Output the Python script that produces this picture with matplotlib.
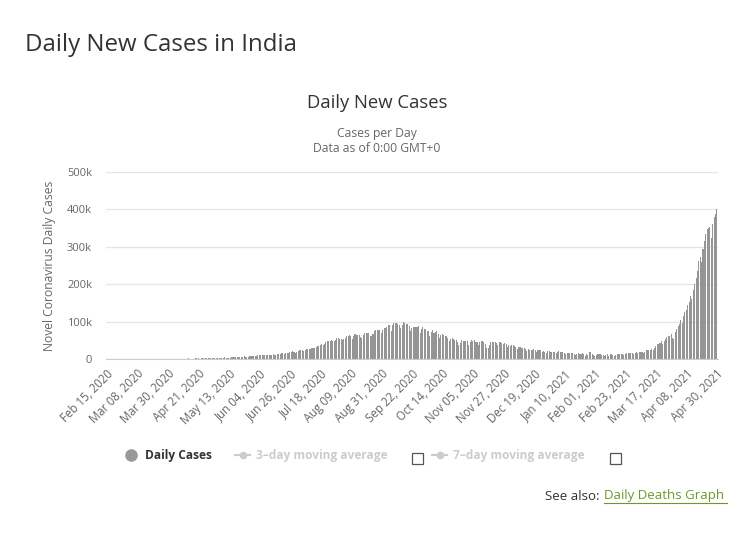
import matplotlib
matplotlib.use("Agg")
import matplotlib.pyplot as plt
from matplotlib.lines import Line2D
from matplotlib.patches import Rectangle
import pandas as pd

plt.rcParams['font.family'] = ['Open Sans', 'DejaVu Sans']

# daily new cases, India, Feb 15 2020 .. Apr 30 2021
feb_2020 = [0] * 15
mar_2020 = [2, 0, 1, 23, 1, 1, 3, 4, 6, 13, 12, 9, 8, 11, 19, 14, 25, 23, 48, 63,
            79, 85, 90, 69, 87, 74, 137, 133, 94, 219, 252]
apr_2020 = [299, 479, 424, 498, 565, 688, 555, 540, 591, 896, 768, 918, 796, 1336, 893,
            1061, 1016, 991, 1334, 1357, 1563, 1264, 1535, 1745, 1749, 1941, 1485, 1576, 1890, 1797]
may_2020 = [2375, 2542, 2669, 3900, 3050, 3554, 3340, 3441, 3104, 4353, 3591, 3647, 3610, 3900,
            4092, 4878, 5049, 5053, 4970, 5690, 5642, 6089, 6606, 6977, 6575, 6348, 6615, 7437,
            7468, 8380, 8137]
jun_2020 = [8392, 8171, 9601, 9633, 9851, 9887, 10436, 9971, 9987, 11089, 11314, 11587, 11929,
            12041, 11499, 10667, 14353, 12821, 13750, 14716, 15414, 13558, 15968, 16301, 16660,
            18313, 19410, 20144, 18653, 16791]
jul_2020 = [19450, 20903, 22718, 24850, 24251, 22252, 23135, 25561, 26506, 26372, 27755, 28701,
            28179, 29842, 32676, 34884, 35252, 37411, 40425, 37148, 39195, 45720, 48916, 49039,
            48661, 49931, 47703, 48512, 52123, 55079, 57118]
aug_2020 = [54735, 52972, 52050, 52509, 56282, 62538, 62170, 64399, 62064, 53601, 60963, 66999,
            64553, 65002, 63490, 57981, 55079, 64531, 69672, 68900, 69878, 70488, 61749, 61408,
            67151, 75760, 77266, 76472, 78761, 78512, 69921]
sep_2020 = [78357, 83883, 83341, 86432, 90633, 90802, 75809, 89706, 95735, 96551, 97570, 94372,
            92071, 81911, 90123, 97894, 96424, 93337, 92605, 86961, 75083, 83347, 86508, 85362,
            86052, 85362, 88600, 70589, 80472, 86821]
oct_2020 = [81484, 79476, 75829, 74442, 61267, 72049, 78524, 70496, 73272, 74383, 66732, 55342,
            63509, 67708, 63371, 62212, 61871, 55722, 46790, 54044, 55839, 53370, 50129, 50356,
            45148, 36469, 43893, 49881, 48648, 46963, 48268]
nov_2020 = [46964, 38310, 46253, 50210, 47638, 50357, 45674, 45903, 38074, 44281, 47905, 48648,
            44879, 41100, 30548, 29164, 38617, 45576, 45882, 45209, 46232, 44059, 37975, 44376,
            44489, 43082, 41322, 41810, 38772, 31118]
dec_2020 = [36604, 35551, 36595, 36652, 36011, 32981, 26567, 32080, 31521, 29398, 30006, 30254,
            27071, 22065, 26382, 24010, 22889, 22890, 26624, 24337, 19556, 23950, 24712, 23067,
            18732, 22273, 20021, 16432, 20549, 21822, 20036]
jan_2021 = [19078, 18177, 18732, 16504, 18088, 20346, 18139, 18222, 18645, 16311, 12584, 15968,
            16946, 15590, 15158, 15144, 13788, 10064, 13823, 15223, 14545, 14256, 14849, 13203,
            9102, 12689, 11666, 18855, 18855, 13083, 11427]
feb_2021 = [8635, 11039, 12899, 12408, 12059, 11713, 11831, 9110, 11067, 12923, 9309, 12143,
            12194, 11649, 9121, 11610, 12881, 13193, 13993, 13993, 14199, 10584, 13742, 16738,
            16577, 16488, 16752, 15510]
mar_2021 = [12286, 14989, 17407, 16838, 18327, 18711, 18599, 15388, 17921, 22854, 23285, 24882,
            25320, 26291, 24492, 28903, 35871, 39726, 40953, 43846, 46951, 40715, 47262, 53476,
            59118, 62258, 62714, 68020, 56211, 53480, 72330]
apr_2021 = [81466, 89129, 93249, 103558, 96982, 115736, 126789, 131968, 145384, 152879, 168912,
            161736, 184372, 200739, 217353, 234692, 261500, 273810, 259167, 295041, 314644,
            332921, 346786, 349313, 352991, 323023, 360927, 379459, 386829, 401993]

cases = (feb_2020 + mar_2020 + apr_2020 + may_2020 + jun_2020 + jul_2020 + aug_2020 + sep_2020
         + oct_2020 + nov_2020 + dec_2020 + jan_2021 + feb_2021 + mar_2021 + apr_2021)
dates = pd.date_range('2020-02-15', periods=len(cases), freq='D')

y_ticks = [0, 100000, 200000, 300000, 400000, 500000]
y_labels = ['0', '100k', '200k', '300k', '400k', '500k']

fig = plt.figure(figsize=(7.37, 5.48), dpi=100)
ax = fig.add_axes([0.1438, 0.3449, 0.830, 0.3412])

ax.bar(dates, cases, width=0.75, color='#959595', linewidth=0)

ax.set_ylim(0, 500000)
ax.set_xlim(dates[0] - pd.Timedelta(days=0.6), dates[-1] + pd.Timedelta(days=0.6))
ax.set_yticks(y_ticks)
ax.set_yticklabels(y_labels)
ax.yaxis.grid(True, color='#e6e6e6', linewidth=1)
ax.set_axisbelow(True)
for s in ['top', 'right', 'left']:
    ax.spines[s].set_visible(False)
ax.spines['bottom'].set_color('#cccccc')
ax.tick_params(axis='y', length=0, labelsize=8, labelcolor='#666666', pad=10)

xt = dates[::22]
ax.set_xticks(xt)
ax.set_xticklabels([d.strftime('%b %d, %Y') for d in xt], rotation=45, ha='right',
                   rotation_mode='anchor')
ax.tick_params(axis='x', length=0, labelsize=8.3, labelcolor='#666666', pad=6)
ax.set_ylabel('Novel Coronavirus Daily Cases', fontsize=8.7, color='#666666', labelpad=8)

# titles
fig.text(25 / 737, 1 - 45 / 548, 'Daily New Cases in India', fontsize=17.3, color='#333333',
         va='center', ha='left')
fig.text(377 / 737, 1 - 103 / 548, 'Daily New Cases', fontsize=13.3, color='#333333',
         va='center', ha='center')
fig.text(377 / 737, 1 - 133 / 548, 'Cases per Day', fontsize=8.7, color='#666666',
         va='center', ha='center')
fig.text(377 / 737, 1 - 148 / 548, 'Data as of 0:00 GMT+0', fontsize=8.7, color='#666666',
         va='center', ha='center')

# legend row
ly = 1 - 455 / 548
fig.add_artist(Line2D([131 / 737], [ly], marker='o', markersize=8, color='#999999',
                      transform=fig.transFigure))
fig.text(145 / 737, ly, 'Daily Cases', fontsize=8.6, fontweight='bold', color='#333333',
         va='center', ha='left')
for x0, label in [(235, '3–day moving average'), (432, '7–day moving average')]:
    fig.add_artist(Line2D([x0 / 737, (x0 + 15) / 737], [ly, ly], color='#cccccc', linewidth=1.5,
                          transform=fig.transFigure))
    fig.add_artist(Line2D([(x0 + 7.5) / 737], [ly], marker='o', markersize=4.5, color='#cccccc',
                          transform=fig.transFigure))
    fig.text((x0 + 21) / 737, ly, label, fontsize=8.6, fontweight='bold', color='#cccccc',
             va='center', ha='left')
for cx in [412, 610]:
    fig.add_artist(Rectangle((cx / 737, 1 - 464 / 548), 11 / 737, 11 / 548, fill=False,
                             edgecolor='#555555', linewidth=0.9, transform=fig.transFigure))

# see also link
fig.text(603 / 737, 1 - 496 / 548, 'See also: ', fontsize=9.5, color='#333333',
         va='center', ha='right')
fig.text(604 / 737, 1 - 496 / 548, 'Daily Deaths Graph', fontsize=9.5, color='#6a9a2a',
         va='center', ha='left')
fig.add_artist(Line2D([604 / 737, 727 / 737], [1 - 503 / 548, 1 - 503 / 548], color='#6a9a2a',
                      linewidth=0.8, transform=fig.transFigure))

fig.savefig('out.png', dpi=100)
